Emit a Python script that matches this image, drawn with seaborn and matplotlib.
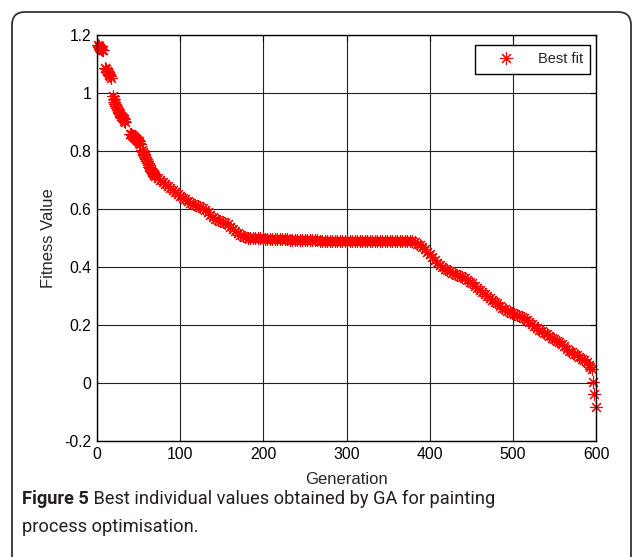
import matplotlib
matplotlib.use("Agg")
import matplotlib.pyplot as plt
import seaborn as sns
import pandas as pd
from matplotlib.patches import FancyBboxPatch

# ---------------- data ----------------
gens_early = [1, 2, 3, 4, 5, 6, 7,
              10, 11, 12, 13, 14, 15, 16, 17,
              19, 20, 21, 22, 23, 24, 25, 26, 27, 28, 29, 30, 31, 32, 33, 34,
              40, 41, 42, 43, 44, 45, 46, 47, 48, 49, 50, 51, 52,
              54, 55, 56, 57, 58, 59, 60, 61, 62, 63, 64, 65, 66, 67, 68, 69]
fit_early = [1.165, 1.163, 1.160, 1.157, 1.154, 1.151, 1.148,
             1.088, 1.083, 1.078, 1.073, 1.068, 1.063, 1.058, 1.053,
             0.990, 0.980, 0.970, 0.962, 0.955, 0.948, 0.942, 0.937, 0.932, 0.927,
             0.922, 0.918, 0.914, 0.910, 0.906, 0.902,
             0.860, 0.858, 0.856, 0.853, 0.851, 0.848, 0.846, 0.843, 0.840, 0.837,
             0.834, 0.830, 0.826,
             0.805, 0.798, 0.792, 0.786, 0.780, 0.773, 0.766, 0.760, 0.753, 0.747,
             0.741, 0.735, 0.730, 0.726, 0.722, 0.718]

# generations 70, 73, ..., 589
gens_main = list(range(70, 590, 3))
fit_main = [0.715, 0.708, 0.701, 0.694, 0.687, 0.680, 0.673, 0.666, 0.659, 0.652,
            0.645, 0.640, 0.634, 0.629, 0.623, 0.618, 0.614, 0.611, 0.609, 0.605,
            0.598, 0.590, 0.582, 0.574, 0.568, 0.563, 0.560, 0.557, 0.554, 0.548,
            0.540, 0.533, 0.526, 0.518, 0.511, 0.507, 0.504, 0.502, 0.501, 0.501,
            0.500, 0.500, 0.500, 0.500, 0.499, 0.499, 0.499, 0.499, 0.498, 0.498,
            0.498, 0.497, 0.497, 0.496, 0.495, 0.495, 0.494, 0.494, 0.494, 0.493,
            0.493, 0.493, 0.493, 0.493, 0.493, 0.493, 0.492, 0.492, 0.492, 0.492,
            0.492, 0.492, 0.492, 0.492, 0.492, 0.492, 0.492, 0.492, 0.492, 0.492,
            0.492, 0.491, 0.491, 0.491, 0.491, 0.491, 0.491, 0.491, 0.491, 0.491,
            0.491, 0.491, 0.491, 0.491, 0.491, 0.490, 0.490, 0.490, 0.490, 0.490,
            0.490, 0.490, 0.490, 0.489, 0.486, 0.482, 0.476, 0.470, 0.462, 0.454,
            0.445, 0.436, 0.426, 0.416, 0.407, 0.400, 0.394, 0.390, 0.386, 0.382,
            0.378, 0.374, 0.371, 0.367, 0.363, 0.357, 0.351, 0.345, 0.337, 0.330,
            0.323, 0.316, 0.309, 0.302, 0.295, 0.288, 0.282, 0.276, 0.268, 0.261,
            0.255, 0.250, 0.246, 0.242, 0.239, 0.236, 0.233, 0.229, 0.224, 0.217,
            0.210, 0.203, 0.196, 0.191, 0.185, 0.180, 0.175, 0.169, 0.162, 0.157,
            0.152, 0.147, 0.142, 0.136, 0.128, 0.120, 0.113, 0.107, 0.101, 0.096,
            0.091, 0.085, 0.079, 0.072]

gens_tail = [591, 593, 595, 596, 598, 600]
fit_tail = [0.064, 0.056, 0.048, 0.005, -0.038, -0.083]

generations = gens_early + gens_main + gens_tail
fitness = fit_early + fit_main + fit_tail
assert len(generations) == len(fitness)

x_ticks = [0, 100, 200, 300, 400, 500, 600]
y_ticks = [-0.2, 0.0, 0.2, 0.4, 0.6, 0.8, 1.0, 1.2]
y_tick_labels = ["-0.2", "0", "0.2", "0.4", "0.6", "0.8", "1", "1.2"]
series_label = "Best fit"
x_label = "Generation"
y_label = "Fitness Value"
caption_bold = "Figure 5"
caption_line1 = " Best individual values obtained by GA for painting"
caption_line2 = "process optimisation."

# ---------------- style ----------------
sns.set_style("white")
plt.rcParams["font.family"] = ["Liberation Sans", "DejaVu Sans"]

W, H, DPI = 634, 557, 100
fig = plt.figure(figsize=(W / DPI, H / DPI), dpi=DPI)

ax_l, ax_r, ax_t, ax_b = 97, 596, 35.3, 441.3
ax = fig.add_axes([ax_l / W, 1 - ax_b / H, (ax_r - ax_l) / W, (ax_b - ax_t) / H])

df = pd.DataFrame({"Generation": generations, "Fitness": fitness})
sns.lineplot(data=df, x="Generation", y="Fitness", ax=ax, estimator=None,
             sort=False, linestyle="none", marker=(8, 2, 0), markersize=9,
             markeredgewidth=0.8, color="red", markeredgecolor="red",
             label=series_label, clip_on=False)

ax.set_xlim(0, 600)
ax.set_ylim(-0.2, 1.2)
ax.set_xticks(x_ticks)
ax.set_xticklabels([str(v) for v in x_ticks])
ax.set_yticks(y_ticks)
ax.set_yticklabels(y_tick_labels)
ax.grid(True, color="#222222", linewidth=0.8)
ax.set_axisbelow(True)
for s in ax.spines.values():
    s.set_visible(True)
    s.set_color("black")
    s.set_linewidth(1.0)
ax.tick_params(direction="in", length=4, width=0.8, top=True, right=True,
               labelsize=11.3, colors="black", pad=4)
ax.set_xlabel(x_label, fontsize=12, labelpad=7)
ax.set_ylabel(y_label, fontsize=12, labelpad=6)

leg = ax.legend(loc="upper right", bbox_to_anchor=(0.988, 0.976),
                borderaxespad=0, frameon=True, fancybox=False,
                edgecolor="black", framealpha=1, fontsize=10.5,
                handlelength=3.2, handletextpad=0.6, borderpad=0.5)
leg.get_frame().set_linewidth(1.0)

# rounded outer frame (open at the bottom)
frame = FancyBboxPatch((0.12, -0.3), 6.19, 5.45 + 0.3,
                       boxstyle="round,pad=0,rounding_size=0.13",
                       transform=fig.dpi_scale_trans, facecolor="none",
                       edgecolor="#333333", linewidth=1.3, clip_on=False)
fig.add_artist(frame)

# caption: size chosen so that line 1 spans the same width as the reference
cap_font = ["Roboto", "DejaVu Sans"]
cap_x0, cap_x1 = 22, 494
size = 13.0
r = fig.canvas.get_renderer()
tb = fig.text(0, 0, caption_bold, fontsize=size, fontweight="bold", family=cap_font)
tr = fig.text(0, 0, caption_line1, fontsize=size, family=cap_font)
wtot = tb.get_window_extent(r).width + tr.get_window_extent(r).width
tb.remove(); tr.remove()
size = size * (cap_x1 - cap_x0) / wtot

t1 = fig.text(cap_x0 / W, 1 - 499 / H, caption_bold, fontsize=size, fontweight="bold",
              family=cap_font, va="center", ha="left", color="#231f20")
bb = t1.get_window_extent(r)
fig.text(bb.x1 / W, 1 - 499 / H, caption_line1, fontsize=size, family=cap_font,
         va="center", ha="left", color="#231f20")
fig.text(cap_x0 / W, 1 - 527 / H, caption_line2, fontsize=size, family=cap_font,
         va="center", ha="left", color="#231f20")

fig.savefig("out.png", dpi=DPI)
